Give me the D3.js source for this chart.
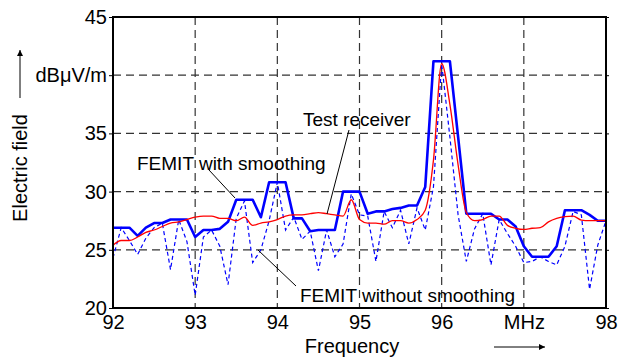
<!DOCTYPE html>
<html>
<head>
<meta charset="utf-8">
<script src="https://cdn.jsdelivr.net/npm/d3@7"></script>
<style>
  body { margin: 0; background: #fff; }
  text { font-family: "Liberation Sans", Arial, sans-serif; fill: #000; }
</style>
</head>
<body>
<script>
// frequency in MHz (0.1 MHz steps)
const freq = [92.0, 92.1, 92.2, 92.3, 92.4, 92.5, 92.6, 92.7, 92.8, 92.9,
              93.0, 93.1, 93.2, 93.3, 93.4, 93.5, 93.6, 93.7, 93.8, 93.9,
              94.0, 94.1, 94.2, 94.3, 94.4, 94.5, 94.6, 94.7, 94.8, 94.9,
              95.0, 95.1, 95.2, 95.3, 95.4, 95.5, 95.6, 95.7, 95.8, 95.9,
              96.0, 96.1, 96.2, 96.3, 96.4, 96.5, 96.6, 96.7, 96.8, 96.9,
              97.0, 97.1, 97.2, 97.3, 97.4, 97.5, 97.6, 97.7, 97.8, 97.9, 98.0];

const testReceiver = [25.4, 25.8, 25.8, 26.1, 26.5, 26.7, 27.0, 27.3, 27.4, 27.6,
                      27.8, 27.9, 27.9, 27.7, 27.7, 27.5, 27.8, 27.1, 27.3, 27.4,
                      27.6, 27.9, 28.0, 28.0, 28.1, 28.2, 28.1, 28.0, 27.9, 29.3,
                      27.6, 27.3, 27.3, 27.2, 27.5, 27.5, 27.3, 27.6, 28.4, 32.7,
                      41.0, 37.5, 32.3, 28.2, 27.5, 27.6, 27.9, 27.9, 27.1, 26.85,
                      26.75, 26.85, 26.9, 27.4, 27.7, 27.85, 27.9, 27.55, 27.5, 27.5, 27.5];

const femitSmooth = [26.9, 26.9, 26.9, 26.2, 26.9, 27.3, 27.3, 27.6, 27.6, 27.6,
                     26.1, 26.7, 26.7, 26.8, 27.4, 29.3, 29.3, 29.3, 27.8, 30.8,
                     30.8, 30.8, 27.7, 27.7, 26.6, 26.7, 26.7, 26.7, 30.0, 30.0,
                     30.0, 28.1, 28.3, 28.3, 28.5, 28.6, 28.8, 28.8, 30.4, 41.2,
                     41.2, 41.2, 34.7, 28.1, 28.1, 28.1, 28.1, 27.6, 27.6, 27.0,
                     25.3, 24.4, 24.4, 24.4, 25.3, 28.4, 28.4, 28.4, 28.0, 27.5, 27.5];

const femitRaw = [24.3, 26.9, 25.8, 24.6, 26.0, 26.9, 27.3, 23.3, 27.6, 25.7,
                  21.1, 26.1, 26.7, 25.3, 22.0, 27.7, 29.2, 23.9, 25.0, 27.5,
                  30.8, 26.7, 27.8, 25.9, 26.6, 23.2, 26.7, 24.4, 25.5, 29.8,
                  28.0, 27.9, 24.0, 28.3, 26.9, 28.4, 25.5, 28.6, 26.7, 30.4,
                  41.0, 34.7, 28.0, 24.0, 26.8, 28.1, 23.7, 27.6, 26.4, 25.3,
                  23.9, 24.0, 24.4, 24.0, 23.7, 25.3, 28.3, 28.0, 21.6, 25.4, 27.5];

const xTicks = [92, 93, 94, 95, 96, 97, 98];
const xTickLabels = ['92', '93', '94', '95', '96', 'MHz', '98'];
const yTicks = [20, 25, 30, 35, 40, 45];
const yTickLabels = ['20', '25', '30', '35', 'dBμV/m', '45'];

const w = 618;
const h = 358;
const m = { top: 17, right: 12, bottom: 50, left: 113 };

const svg = d3.select('body')
              .append('svg')
              .attr('width', w)
              .attr('height', h)

const x = d3.scaleLinear().domain([92, 98]).range([m.left, w - m.right]);
const y = d3.scaleLinear().domain([20, 45]).range([h - m.bottom, m.top]);

// grid
svg.append('g')
   .selectAll('line')
   .data(xTicks.slice(1, -1))
   .enter()
   .append('line')
   .attr('x1', d => x(d)).attr('x2', d => x(d))
   .attr('y1', y(45)).attr('y2', y(20))
   .attr('stroke', '#333')
   .attr('stroke-width', 1.2)
   .attr('stroke-dasharray', '8,5')
svg.append('g')
   .selectAll('line')
   .data(yTicks.slice(1, -1))
   .enter()
   .append('line')
   .attr('x1', x(92)).attr('x2', x(98))
   .attr('y1', d => y(d)).attr('y2', d => y(d))
   .attr('stroke', '#333')
   .attr('stroke-width', 1.2)
   .attr('stroke-dasharray', '8,5')

// axes
const yAxis = d3.axisLeft(y)
                .tickValues(yTicks)
                .tickFormat((d, i) => yTickLabels[i])
                .tickSize(4)
                .tickPadding(2)
const gy = svg.append('g')
              .attr('transform', `translate(${m.left},0)`)
              .call(yAxis)
gy.select('.domain').remove()
gy.selectAll('text').style('font-size', '20px').attr('font-family', null)

const gyr = svg.append('g')
               .attr('transform', `translate(${w - m.right},0)`)
               .call(d3.axisRight(y).tickValues(yTicks).tickSize(3).tickFormat(''))
gyr.select('.domain').remove()

const xAxis = d3.axisBottom(x)
                .tickValues(xTicks)
                .tickFormat((d, i) => xTickLabels[i])
                .tickSize(0)
                .tickPadding(7)
const gx = svg.append('g')
              .attr('transform', `translate(0,${h - m.bottom})`)
              .call(xAxis)
gx.select('.domain').remove()
gx.selectAll('text').style('font-size', '20px').attr('font-family', null)

// lines
const rows = freq.map((f, i) => ({ f, r: testReceiver[i], s: femitSmooth[i], u: femitRaw[i] }));

svg.append('path')
   .datum(rows)
   .attr('fill', 'none')
   .attr('stroke', '#0000ff')
   .attr('stroke-width', 2.6)
   .attr('stroke-linejoin', 'round')
   .attr('d', d3.line().x(d => x(d.f)).y(d => y(d.s)))

svg.append('path')
   .datum(rows)
   .attr('fill', 'none')
   .attr('stroke', '#0000ff')
   .attr('stroke-width', 1.2)
   .attr('stroke-dasharray', '4,3')
   .attr('d', d3.line().x(d => x(d.f)).y(d => y(d.u)))

svg.append('path')
   .datum(rows)
   .attr('fill', 'none')
   .attr('stroke', '#ff0000')
   .attr('stroke-width', 1.3)
   .attr('d', d3.line().curve(d3.curveMonotoneX).x(d => x(d.f)).y(d => y(d.r)))

// border
svg.append('rect')
   .attr('x', x(92)).attr('y', y(45))
   .attr('width', x(98) - x(92)).attr('height', y(20) - y(45))
   .attr('fill', 'none')
   .attr('stroke', '#000')
   .attr('stroke-width', 2)

// annotations
const notes = svg.append('g').style('font-size', '19px')
notes.append('text').attr('x', 303).attr('y', 126).text('Test receiver')
notes.append('text').attr('x', 137).attr('y', 170).text('FEMIT with smoothing')
notes.append('text').attr('x', 300).attr('y', 302).text('FEMIT without smoothing')
const leaders = [[349, 130, 327, 214], [209, 170, 235, 198], [258, 250, 296, 286]];
notes.selectAll('line')
     .data(leaders)
     .enter()
     .append('line')
     .attr('x1', d => d[0]).attr('y1', d => d[1])
     .attr('x2', d => d[2]).attr('y2', d => d[3])
     .attr('stroke', '#000')
     .attr('stroke-width', 1)

// axis titles and arrows
svg.append('defs').append('marker')
   .attr('id', 'head')
   .attr('viewBox', '0 0 10 10')
   .attr('refX', 10).attr('refY', 5)
   .attr('markerWidth', 10).attr('markerHeight', 6)
   .attr('markerUnits', 'userSpaceOnUse')
   .attr('orient', 'auto')
   .append('path')
   .attr('d', 'M0,0L10,5L0,10Z')
   .attr('fill', '#000')

svg.append('text')
   .attr('x', 352).attr('y', 353)
   .attr('text-anchor', 'middle')
   .style('font-size', '20px')
   .text('Frequency')
svg.append('line')
   .attr('x1', 494).attr('y1', 347).attr('x2', 545).attr('y2', 347)
   .attr('stroke', '#000').attr('stroke-width', 1)
   .attr('marker-end', 'url(#head)')

svg.append('text')
   .attr('transform', 'translate(27,168) rotate(-90)')
   .attr('text-anchor', 'middle')
   .style('font-size', '20px')
   .text('Electric field')
svg.append('line')
   .attr('x1', 20).attr('y1', 98).attr('x2', 20).attr('y2', 50)
   .attr('stroke', '#000').attr('stroke-width', 1)
   .attr('marker-end', 'url(#head)')
</script>
</body>
</html>
